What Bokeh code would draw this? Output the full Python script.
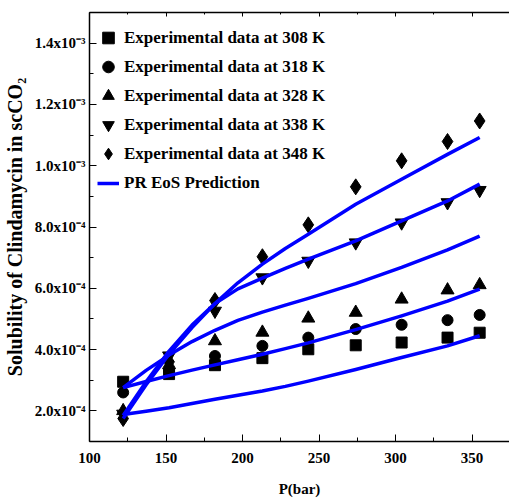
from bokeh.plotting import figure
from bokeh.models import (Range1d, LinearAxis, SingleIntervalTicker, FixedTicker, Legend, LegendItem,
                          CustomLabelingPolicy)
from bokeh.embed import file_html
from bokeh.resources import INLINE

# ---- data ----
pressure = [122, 152, 182, 213, 243, 274, 304, 334, 355]
exp_308 = [2.95e-4, 3.2e-4, 3.49e-4, 3.72e-4, 4.01e-4, 4.14e-4, 4.23e-4, 4.39e-4, 4.55e-4]
exp_318 = [2.6e-4, 3.3e-4, 3.79e-4, 4.12e-4, 4.39e-4, 4.67e-4, 4.81e-4, 4.96e-4, 5.13e-4]
exp_328 = [2.0e-4, 3.5e-4, 4.28e-4, 4.56e-4, 5.02e-4, 5.21e-4, 5.64e-4, 5.94e-4, 6.11e-4]
exp_338 = [1.9e-4, 3.8e-4, 5.26e-4, 6.35e-4, 6.89e-4, 7.49e-4, 8.14e-4, 8.8e-4, 9.2e-4]
exp_348 = [1.75e-4, 3.6e-4, 5.6e-4, 7.03e-4, 8.07e-4, 9.31e-4, 1.016e-3, 1.079e-3, 1.146e-3]

model_pressure = [122, 137, 152, 167, 182, 197, 213, 228, 243, 274, 304, 334, 355]
model_308 = [1.88e-4, 1.99e-4, 2.1e-4, 2.24e-4, 2.38e-4, 2.51e-4, 2.65e-4, 2.8e-4, 2.97e-4,
             3.35e-4, 3.74e-4, 4.12e-4, 4.45e-4]
model_318 = [2.76e-4, 2.96e-4, 3.15e-4, 3.33e-4, 3.5e-4, 3.67e-4, 3.85e-4, 4.03e-4, 4.22e-4,
             4.65e-4, 5.1e-4, 5.58e-4, 5.97e-4]
model_328 = [2.76e-4, 3.32e-4, 3.82e-4, 4.26e-4, 4.63e-4, 4.95e-4, 5.22e-4, 5.45e-4, 5.67e-4,
             6.15e-4, 6.68e-4, 7.25e-4, 7.7e-4]
model_338 = [1.85e-4, 2.95e-4, 3.95e-4, 4.8e-4, 5.5e-4, 5.98e-4, 6.33e-4, 6.65e-4, 6.95e-4,
             7.55e-4, 8.2e-4, 8.85e-4, 9.4e-4]
model_348 = [1.75e-4, 2.85e-4, 3.85e-4, 4.72e-4, 5.5e-4, 6.18e-4, 6.79e-4, 7.3e-4, 7.76e-4,
             8.74e-4, 9.56e-4, 1.037e-3, 1.092e-3]

y_ticks = [2e-4, 4e-4, 6e-4, 8e-4, 1.0e-3, 1.2e-3, 1.4e-3]
y_tick_labels = ["2.0x10\u207b\u2074", "4.0x10\u207b\u2074", "6.0x10\u207b\u2074", "8.0x10\u207b\u2074",
                 "1.0x10\u207b\u00b3", "1.2x10\u207b\u00b3", "1.4x10\u207b\u00b3"]
y_minor = [3e-4, 5e-4, 7e-4, 9e-4, 1.1e-3, 1.3e-3]

legend_labels = ["Experimental data at 308 K", "Experimental data at 318 K", "Experimental data at 328 K",
                 "Experimental data at 338 K", "Experimental data at 348 K", "PR EoS Prediction"]

FONT = "Liberation Serif"

p = figure(width=509, height=501, output_backend="svg", toolbar_location=None,
           x_range=Range1d(100, 374.5), y_range=Range1d(1.0e-4, 1.5e-3),
           min_border_left=88, min_border_right=0, min_border_top=12, min_border_bottom=60)
p.xgrid.visible = False
p.ygrid.visible = False
p.outline_line_color = None
p.background_fill_color = "white"
p.border_fill_color = "white"

xt = SingleIntervalTicker(interval=50, num_minor_ticks=2)
p.xaxis.ticker = xt
p.yaxis.ticker = FixedTicker(ticks=y_ticks, minor_ticks=y_minor)
p.yaxis.major_label_overrides = {t: l for t, l in zip(y_ticks, y_tick_labels)}

for ax in (p.xaxis[0], p.yaxis[0]):
    ax.axis_line_width = 1.5
    ax.axis_line_color = "black"
    ax.major_tick_in = 7
    ax.major_tick_out = 0
    ax.minor_tick_in = 4
    ax.minor_tick_out = 0
    ax.major_tick_line_width = 1
    ax.major_label_text_font = FONT
    ax.major_label_text_font_style = "bold"
    ax.major_label_text_font_size = "15px"
    ax.major_label_text_color = "black"
    ax.axis_label_text_font = FONT
    ax.axis_label_text_font_style = "bold"
    ax.axis_label_text_color = "black"

p.xaxis.axis_label = "P(bar)"
p.xaxis.axis_label_text_font_size = "15px"
p.xaxis.major_label_standoff = 11
p.xaxis.axis_label_standoff = 15

p.yaxis.axis_label = "Solubility of Clindamycin in scCO\u2082"
p.yaxis.axis_label_text_font_size = "20px"
p.yaxis.major_label_standoff = 4
p.yaxis.axis_label_standoff = 6

top = LinearAxis(ticker=xt, major_label_text_font_size="1px", major_label_standoff=0,
                 major_label_policy=CustomLabelingPolicy(code="return new Set()"),
                 major_tick_in=4, major_tick_out=0, minor_tick_in=2, minor_tick_out=0,
                 axis_line_width=1.5)
p.add_layout(top, "above")

r1 = p.scatter(pressure, exp_308, marker="square", size=11, color="black")
r2 = p.scatter(pressure, exp_318, marker="circle", size=11, color="black")
r3 = p.scatter(pressure, exp_328, marker="triangle", size=13, color="black")
r4 = p.scatter(pressure, exp_338, marker="inverted_triangle", size=13, color="black")
r5 = p.scatter(pressure, exp_348, marker="diamond", size=16, color="black")

lines = []
for m in (model_308, model_318, model_328, model_338, model_348):
    lines.append(p.line(model_pressure, m, line_color="#0000ff", line_width=3.5, line_join="round"))

common = dict(padding=0, margin=0, spacing=0, label_text_font=FONT, label_text_font_style="bold",
              label_text_font_size="17px", label_text_color="black", border_line_color=None,
              background_fill_alpha=0)

marker_items = [LegendItem(label=legend_labels[i], renderers=[r]) for i, r in enumerate([r1, r2, r3, r4, r5])]
legend_a = Legend(items=marker_items, location=(4, 273), glyph_width=30, glyph_height=29,
                  label_height=29, label_standoff=1, **common)
p.add_layout(legend_a)

legend_b = Legend(items=[LegendItem(label=legend_labels[5], renderers=[lines[0]])], location=(8, 248),
                  glyph_width=22, glyph_height=20, label_height=20, label_standoff=5, **common)
p.add_layout(legend_b)

open("out.html", "w").write(file_html(p, INLINE))
